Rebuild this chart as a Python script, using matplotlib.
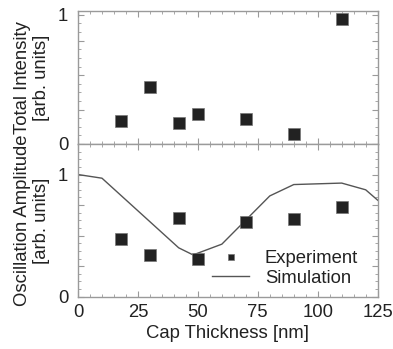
import numpy as np
import matplotlib
matplotlib.use('Agg')
import matplotlib.pyplot as plt
from matplotlib.ticker import MultipleLocator

plt.rcParams['font.family'] = ['Liberation Sans', 'DejaVu Sans']

# Data
thickness = [18, 30, 42, 50, 70, 90, 110]
intensity = [0.18, 0.444, 0.165, 0.23, 0.196, 0.078, 0.969]
amplitude = [0.47, 0.344, 0.643, 0.309, 0.61, 0.634, 0.733]
sim_x = [0, 10, 42, 48, 60, 80, 90, 110, 120, 125]
sim_y = [1.0, 0.97, 0.40, 0.342, 0.43, 0.825, 0.918, 0.93, 0.875, 0.79]

FRAME = '#9a9a9a'
TXT = '#222222'
FS = 13.3

fig = plt.figure(figsize=(3.93, 3.49), dpi=100)
ax1 = fig.add_axes([0.1985, 0.5874, 0.7625, 0.3811])
ax2 = fig.add_axes([0.1985, 0.1499, 0.7625, 0.4375])


def style(ax):
    for s in ax.spines.values():
        s.set_color(FRAME)
        s.set_linewidth(1.0)
    ax.tick_params(which='both', direction='in', top=True, right=True,
                   color=FRAME, labelcolor=TXT, labelsize=FS)
    ax.tick_params(which='major', length=4, width=0.8)
    ax.tick_params(which='minor', length=2.2, width=0.6)
    ax.set_xlim(0, 125)
    ax.xaxis.set_major_locator(MultipleLocator(25))
    ax.xaxis.set_minor_locator(MultipleLocator(5))


# Top panel
style(ax1)
ax1.plot(thickness, intensity, 's', color='#222222', mec='#777777',
         mew=0.5, ms=8, ls='none')
ax1.set_ylim(0, 1.03)
ax1.set_yticks([0, 4 / 15, 8 / 15, 12 / 15, 1.0],
               labels=['0', '', '', '', '1'])
ax1.yaxis.set_minor_locator(MultipleLocator(1 / 15))
ax1.tick_params(axis='x', labelbottom=False)
ax1.tick_params(axis='y', pad=7)
ax1.set_ylabel('Total Intensity\n[arb. units]', fontsize=FS, color=TXT,
               linespacing=1.15)
ax1.yaxis.set_label_coords(-0.095, 0.5)

# Bottom panel
style(ax2)
ax2.plot(sim_x, sim_y, '-', color='#555555', lw=1.0, label='Simulation')
ax2.plot(thickness, amplitude, 's', color='#222222', mec='#777777',
         mew=0.5, ms=8, ls='none', label='Experiment')
ax2.set_ylim(0, 1.25)
ax2.set_yticks([0, 0.25, 0.5, 0.75, 1.0], labels=['0', '', '', '', '1'])
ax2.yaxis.set_minor_locator(MultipleLocator(0.0625))
ax2.tick_params(axis='y', pad=7)
ax2.tick_params(axis='x', pad=5)
ax2.set_xticks([0, 25, 50, 75, 100, 125])
ax2.set_xlabel('Cap Thickness [nm]', fontsize=FS, color=TXT, labelpad=3)
ax2.set_ylabel('Oscillation Amplitude\n[arb. units]', fontsize=FS,
               color=TXT, linespacing=1.15)
ax2.yaxis.set_label_coords(-0.095, 0.5)

h, l = ax2.get_legend_handles_labels()
ax2.legend([h[1], h[0]], [l[1], l[0]], loc='lower right',
           bbox_to_anchor=(0.99, -0.045), frameon=False, fontsize=FS,
           markerscale=0.6, handlelength=2.0, handletextpad=0.85,
           labelspacing=0.15, labelcolor=TXT)

fig.savefig('out.png', dpi=100)
